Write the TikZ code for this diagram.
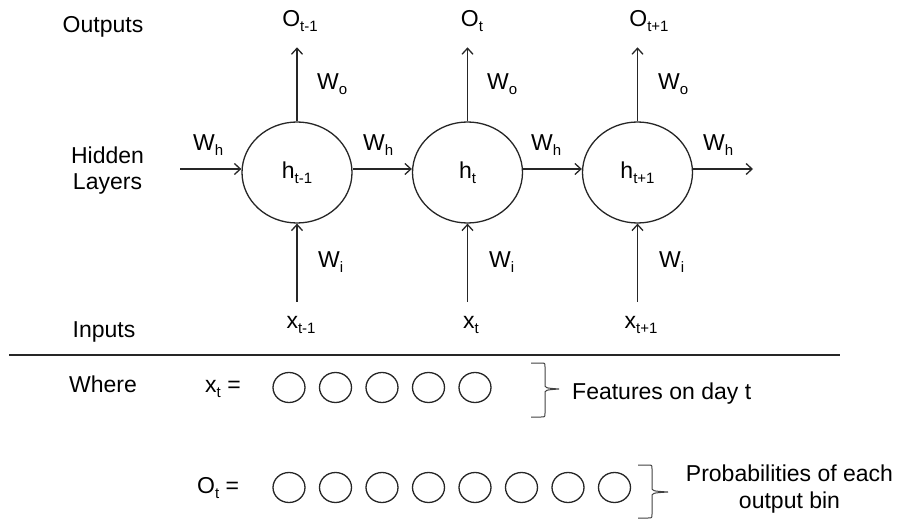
\documentclass[tikz,border=0pt]{standalone}
\usepackage{fontspec}
\setmainfont{Liberation Sans}
\usetikzlibrary{shapes.geometric,arrows.meta}
\newcommand{\lowsub}[1]{\raisebox{-5pt}{\fontsize{15}{15}\selectfont #1}}
\newcommand{\drawbrace}[5]{%
  \draw[brc] ({#1-14},#2) -- ({#1-4},#2) .. controls (#1,#2) .. (#1,{#2+4})
    -- (#1,{#4-5}) .. controls (#1,{#4-1}) .. (#5,#4)
    .. controls (#1,{#4+1}) .. (#1,{#4+5})
    -- (#1,{#3-4}) .. controls (#1,#3) .. ({#1-4},#3) -- ({#1-14},#3);}
\begin{document}
\begin{tikzpicture}[x=1pt,y=-1pt,
  txt/.style={inner sep=0pt, text=black, font=\fontsize{23}{26}\selectfont},
  hid/.style={ellipse, draw=black!85, line width=1.3pt, minimum width=110pt,
              minimum height=101pt, inner sep=0pt, font=\fontsize{23}{26}\selectfont},
  sm/.style={ellipse, draw=black!85, line width=1.3pt, minimum width=32pt,
             minimum height=30pt, inner sep=0pt},
  arr/.style={draw=black!85, line width=1.3pt, -{Straight Barb[length=6pt,width=11pt]}},
  brc/.style={draw=black!75, line width=1pt},
  sep/.style={draw=black!85, line width=1.3pt}]
\useasboundingbox (0,0) rectangle (899,521);

% hidden states
\node[hid] (h1) at (297,172.5) {h\lowsub{t-1}};
\node[hid] (h2) at (467.5,172.5) {h\lowsub{t}};
\node[hid] (h3) at (637.5,172.5) {h\lowsub{t+1}};

% outputs
\node[txt, anchor=base] (o1) at (300,27) {O\lowsub{t-1}};
\node[txt, anchor=base] (o2) at (472,27) {O\lowsub{t}};
\node[txt, anchor=base] (o3) at (649,27) {O\lowsub{t+1}};

% inputs
\node[txt, anchor=base] (x1) at (301,328) {x\lowsub{t-1}};
\node[txt, anchor=base] (x2) at (471,328) {x\lowsub{t}};
\node[txt, anchor=base] (x3) at (641,328) {x\lowsub{t+1}};

% output arrows
\draw[arr, shorten >=15pt] (h1.north) -- (h1.north |- o1.south);
\draw[arr, shorten >=15pt] (h2.north) -- (h2.north |- o2.south);
\draw[arr, shorten >=15pt] (h3.north) -- (h3.north |- o3.south);

% input arrows
\draw[arr, shorten <=14pt] (h1.south |- x1.north) -- (h1.south);
\draw[arr, shorten <=14pt] (h2.south |- x2.north) -- (h2.south);
\draw[arr, shorten <=14pt] (h3.south |- x3.north) -- (h3.south);

% recurrent arrows
\coordinate (hin) at (180,169);
\coordinate (hout) at (753,169);
\draw[arr] (hin) -- (hin -| h1.west);
\draw[arr] (h1.east |- hin) -- (h2.west |- hin);
\draw[arr] (h2.east |- hin) -- (h3.west |- hin);
\draw[arr] (h3.east |- hin) -- (hout);

% weight labels
\node[txt, anchor=base west] (wh0) at (193,151) {W\lowsub{h}};
\node[txt, anchor=base west] (wh1) at (363,151) {W\lowsub{h}};
\node[txt, anchor=base west] (wh2) at (531,151) {W\lowsub{h}};
\node[txt, anchor=base west] (wh3) at (703,151) {W\lowsub{h}};
\node[txt, anchor=base west] (wo1) at (317,90) {W\lowsub{o}};
\node[txt, anchor=base west] (wo2) at (487,90) {W\lowsub{o}};
\node[txt, anchor=base west] (wo3) at (658,90) {W\lowsub{o}};
\node[txt, anchor=base west] (wi1) at (318,268) {W\lowsub{i}};
\node[txt, anchor=base west] (wi2) at (489,268) {W\lowsub{i}};
\node[txt, anchor=base west] (wi3) at (659,268) {W\lowsub{i}};

% row labels
\node[txt, anchor=base] (lout) at (103,33) {Outputs};
\node[txt, anchor=north, align=center] (lhid) at (107.5,147) {Hidden\\Layers};
\node[txt, anchor=base] (lin) at (104,337) {Inputs};

% separator
\coordinate (s1) at (9,355);
\coordinate (s2) at (840,355);
\draw[sep] (s1) -- (s2);

% where section
\node[txt, anchor=base] (where) at (103,392) {Where};
\node[txt, anchor=base west] (xeq) at (205,392) {x\lowsub{t} =};
\node[txt, anchor=base west] (oeq) at (197,493) {O\lowsub{t} =};
\foreach \i in {0,...,4} \node[sm] (a\i) at ({289+46.5*\i},387.5) {};
\foreach \i in {0,...,7} \node[sm] (b\i) at ({289+46.5*\i},487.5) {};

\drawbrace{545}{363}{417}{389}{559}
\drawbrace{652}{465}{518}{492}{668}

\node[txt, anchor=base west] (feat) at (572,399) {Features on day t};
\node[txt, anchor=north, align=center, font=\fontsize{23}{27}\selectfont] (prob) at (789.5,465) {Probabilities of each\\output bin};
\end{tikzpicture}
\end{document}
